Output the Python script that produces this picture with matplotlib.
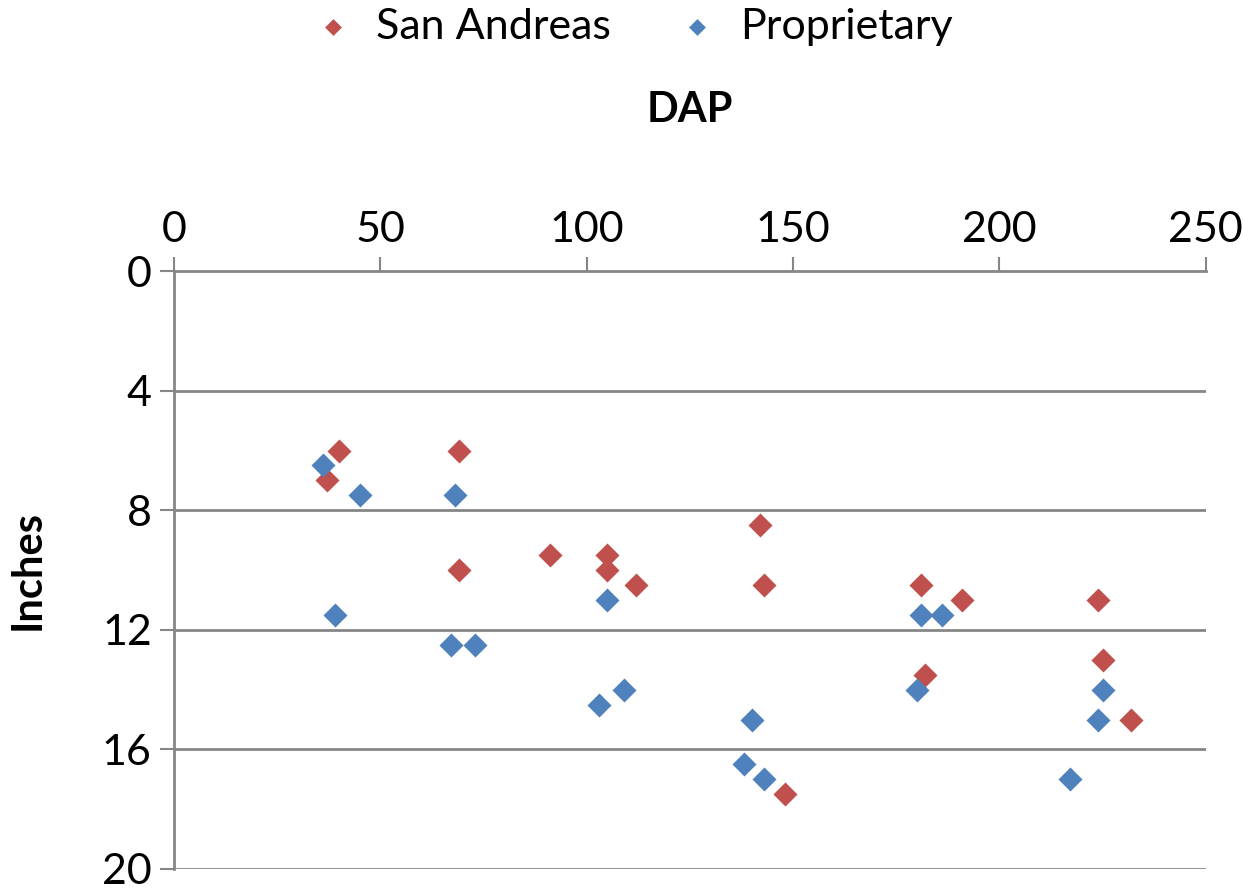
import matplotlib.pyplot as plt

plt.rcParams['font.family'] = ['Lato', 'DejaVu Sans']

# San Andreas series
sa_dap = [40, 37, 69, 69, 91, 105, 105, 112, 142, 143, 148, 181, 182, 191, 224, 225, 232]
sa_in = [6, 7, 6, 10, 9.5, 9.5, 10, 10.5, 8.5, 10.5, 17.5, 10.5, 13.5, 11, 11, 13, 15]

# Proprietary series
pr_dap = [36, 45, 39, 68, 67, 73, 105, 103, 109, 140, 138, 143, 181, 186, 180, 225, 224, 217]
pr_in = [6.5, 7.5, 11.5, 7.5, 12.5, 12.5, 11, 14.5, 14, 15, 16.5, 17, 11.5, 11.5, 14, 14, 15, 17]

x_ticks = [0, 50, 100, 150, 200, 250]
y_ticks = [0, 4, 8, 12, 16, 20]

red = '#C0504D'
blue = '#4F81BD'
grey = '#868686'

fig = plt.figure(figsize=(12.43, 8.89), dpi=100)
ax = fig.add_axes([0.14, 0.0225, 0.830, 0.6725])

ax.scatter(sa_dap, sa_in, marker='D', s=150, color=red, label='San Andreas', zorder=3, linewidths=0)
ax.scatter(pr_dap, pr_in, marker='D', s=150, color=blue, label='Proprietary', zorder=3, linewidths=0)

ax.set_xlim(0, 250)
ax.set_ylim(20, 0)
ax.set_xticks(x_ticks)
ax.set_yticks(y_ticks)
ax.xaxis.tick_top()
ax.xaxis.set_label_position('top')
ax.tick_params(axis='both', labelsize=31, color=grey, width=1.5, length=10, pad=6)
ax.tick_params(axis='x', direction='out')

for y in y_ticks[1:]:
    ax.axhline(y, color=grey, lw=2, zorder=1)

for side in ['right', 'bottom']:
    ax.spines[side].set_visible(False)
for side in ['left', 'top']:
    ax.spines[side].set_color(grey)
    ax.spines[side].set_linewidth(2)

ax.set_xlabel('DAP', fontsize=30, fontweight='bold', labelpad=64)
ax.set_ylabel('Inches', fontsize=30, fontweight='bold', labelpad=40)

fig.legend(loc='upper center', bbox_to_anchor=(0.5, 1.035), ncol=2, frameon=False,
           fontsize=31, handletextpad=0.0, columnspacing=1.0, markerscale=0.7)

fig.savefig('out.png', dpi=100)
